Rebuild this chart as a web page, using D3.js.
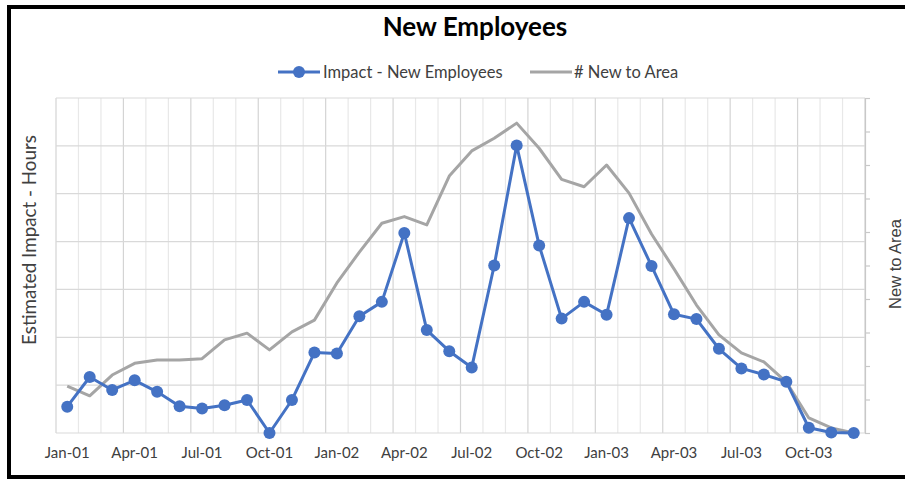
<!DOCTYPE html>
<html>
<head>
<meta charset="utf-8">
<script src="https://cdn.jsdelivr.net/npm/d3@7"></script>
<style>
  html, body { margin: 0; padding: 0; background: #fff; }
  svg { display: block; font-family: Lato, "Open Sans", sans-serif; }
</style>
</head>
<body>
<div id="chart"></div>
<script>
const months = [
  "Jan-01", "Feb-01", "Mar-01", "Apr-01", "May-01", "Jun-01", "Jul-01", "Aug-01", "Sep-01", "Oct-01", "Nov-01", "Dec-01",
  "Jan-02", "Feb-02", "Mar-02", "Apr-02", "May-02", "Jun-02", "Jul-02", "Aug-02", "Sep-02", "Oct-02", "Nov-02", "Dec-02",
  "Jan-03", "Feb-03", "Mar-03", "Apr-03", "May-03", "Jun-03", "Jul-03", "Aug-03", "Sep-03", "Oct-03", "Nov-03", "Dec-03"
];
const tickLabels = ["Jan-01", "Apr-01", "Jul-01", "Oct-01", "Jan-02", "Apr-02", "Jul-02", "Oct-02", "Jan-03", "Apr-03", "Jul-03", "Oct-03"];

// left axis (hours), no labels shown in the picture
const impact = [
  0.55, 1.17, 0.90, 1.10, 0.86, 0.56, 0.51, 0.58, 0.69, 0.00, 0.69, 1.68,
  1.66, 2.44, 2.74, 4.18, 2.15, 1.71, 1.37, 3.50, 6.01, 3.92, 2.39, 2.74,
  2.47, 4.49, 3.49, 2.48, 2.38, 1.76, 1.35, 1.22, 1.07, 0.11, 0.01, 0.00
];
// right axis (count)
const newToArea = [
  1.40, 1.11, 1.73, 2.08, 2.18, 2.18, 2.22, 2.78, 2.98, 2.48, 3.02, 3.37,
  4.48, 5.40, 6.26, 6.46, 6.21, 7.67, 8.42, 8.80, 9.25, 8.50, 7.57, 7.35,
  8.00, 7.16, 5.94, 4.90, 3.82, 2.93, 2.39, 2.12, 1.52, 0.45, 0.15, 0.00
];

const width = 905, height = 479;
const margin = { top: 98, right: 40, bottom: 46, left: 56 };
const blue = "#4472c4", grey = "#a5a5a5";

const svg = d3.select("#chart").append("svg")
  .attr("width", width).attr("height", height);

const x = d3.scaleBand().domain(months).range([margin.left, width - margin.right]).padding(0);
const yL = d3.scaleLinear().domain([0, 7]).range([height - margin.bottom, margin.top]);
const yR = d3.scaleLinear().domain([0, 10]).range([height - margin.bottom, margin.top]);
const cx = (m) => x(m) + x.bandwidth() / 2;

// vertical gridlines at month boundaries, darker every quarter
const bounds = months.map((m) => x(m)).concat([x.range()[1]]);
svg.append("g").selectAll("line").data(bounds).join("line")
  .attr("x1", (d) => d).attr("x2", (d) => d)
  .attr("y1", yL(0)).attr("y2", yL(7))
  .attr("stroke", (d, i) => (i % 3 === 0 ? "#d4d4d4" : "#e8e8e8"))
  .attr("stroke-width", 1.2);

// horizontal gridlines
svg.append("g").selectAll("line").data(d3.range(0, 8)).join("line")
  .attr("x1", x.range()[0]).attr("x2", x.range()[1])
  .attr("y1", (d) => yL(d)).attr("y2", (d) => yL(d))
  .attr("stroke", "#d9d9d9").attr("stroke-width", 1.2);

// right axis: line + outward ticks, no labels
const rightAxis = svg.append("g")
  .attr("transform", `translate(${x.range()[1]},0)`)
  .call(d3.axisRight(yR).ticks(10).tickSize(5).tickFormat(""));
rightAxis.select(".domain").attr("stroke", "#c8c8c8").attr("stroke-width", 1.2);
rightAxis.selectAll(".tick line").attr("stroke", "#c8c8c8").attr("stroke-width", 1.2);

// bottom axis labels
const bottomAxis = svg.append("g")
  .attr("transform", `translate(0,${yL(0)})`)
  .call(d3.axisBottom(x).tickValues(tickLabels).tickSize(0).tickPadding(14));
bottomAxis.select(".domain").remove();
bottomAxis.selectAll("text")
  .attr("font-family", "Lato, sans-serif")
  .attr("font-size", 15).attr("fill", "#404040");

// # New to Area line
svg.append("path")
  .datum(newToArea)
  .attr("fill", "none").attr("stroke", grey).attr("stroke-width", 3)
  .attr("stroke-linejoin", "round")
  .attr("d", d3.line().x((d, i) => cx(months[i])).y((d) => yR(d)));

// Impact line with markers
svg.append("path")
  .datum(impact)
  .attr("fill", "none").attr("stroke", blue).attr("stroke-width", 3)
  .attr("stroke-linejoin", "round")
  .attr("d", d3.line().x((d, i) => cx(months[i])).y((d) => yL(d)));
svg.append("g").selectAll("circle").data(impact).join("circle")
  .attr("cx", (d, i) => cx(months[i])).attr("cy", (d) => yL(d))
  .attr("r", 6).attr("fill", blue);

// title
svg.append("text")
  .attr("x", 475).attr("y", 36).attr("text-anchor", "middle")
  .attr("font-size", 26).attr("font-weight", "bold").attr("fill", "#000")
  .text("New Employees");

// legend
const lg = svg.append("g").attr("font-size", 16.5).attr("fill", "#404040");
lg.append("line").attr("x1", 278).attr("x2", 320).attr("y1", 72).attr("y2", 72)
  .attr("stroke", blue).attr("stroke-width", 3);
lg.append("circle").attr("cx", 299).attr("cy", 72).attr("r", 6).attr("fill", blue);
lg.append("text").attr("x", 323).attr("y", 78).attr("fill", "#404040").text("Impact - New Employees");
lg.append("line").attr("x1", 530).attr("x2", 572).attr("y1", 72).attr("y2", 72)
  .attr("stroke", grey).attr("stroke-width", 3);
lg.append("text").attr("x", 574).attr("y", 78).attr("fill", "#404040").text("# New to Area");

// axis titles
svg.append("text")
  .attr("transform", `translate(36,240) rotate(-90)`)
  .attr("text-anchor", "middle").attr("font-size", 18.8).attr("fill", "#404040")
  .text("Estimated Impact - Hours");
svg.append("text")
  .attr("transform", `translate(901,264) rotate(-90)`)
  .attr("text-anchor", "middle").attr("font-size", 16.5)
  .attr("font-family", "'Liberation Sans', Arial, sans-serif").attr("fill", "#404040")
  .text("New to Area");

// outer frame (open at the right edge)
svg.append("rect")
  .attr("x", 9).attr("y", 7).attr("width", 1000).attr("height", 470)
  .attr("fill", "none").attr("stroke", "#000").attr("stroke-width", 4);
</script>
</body>
</html>
